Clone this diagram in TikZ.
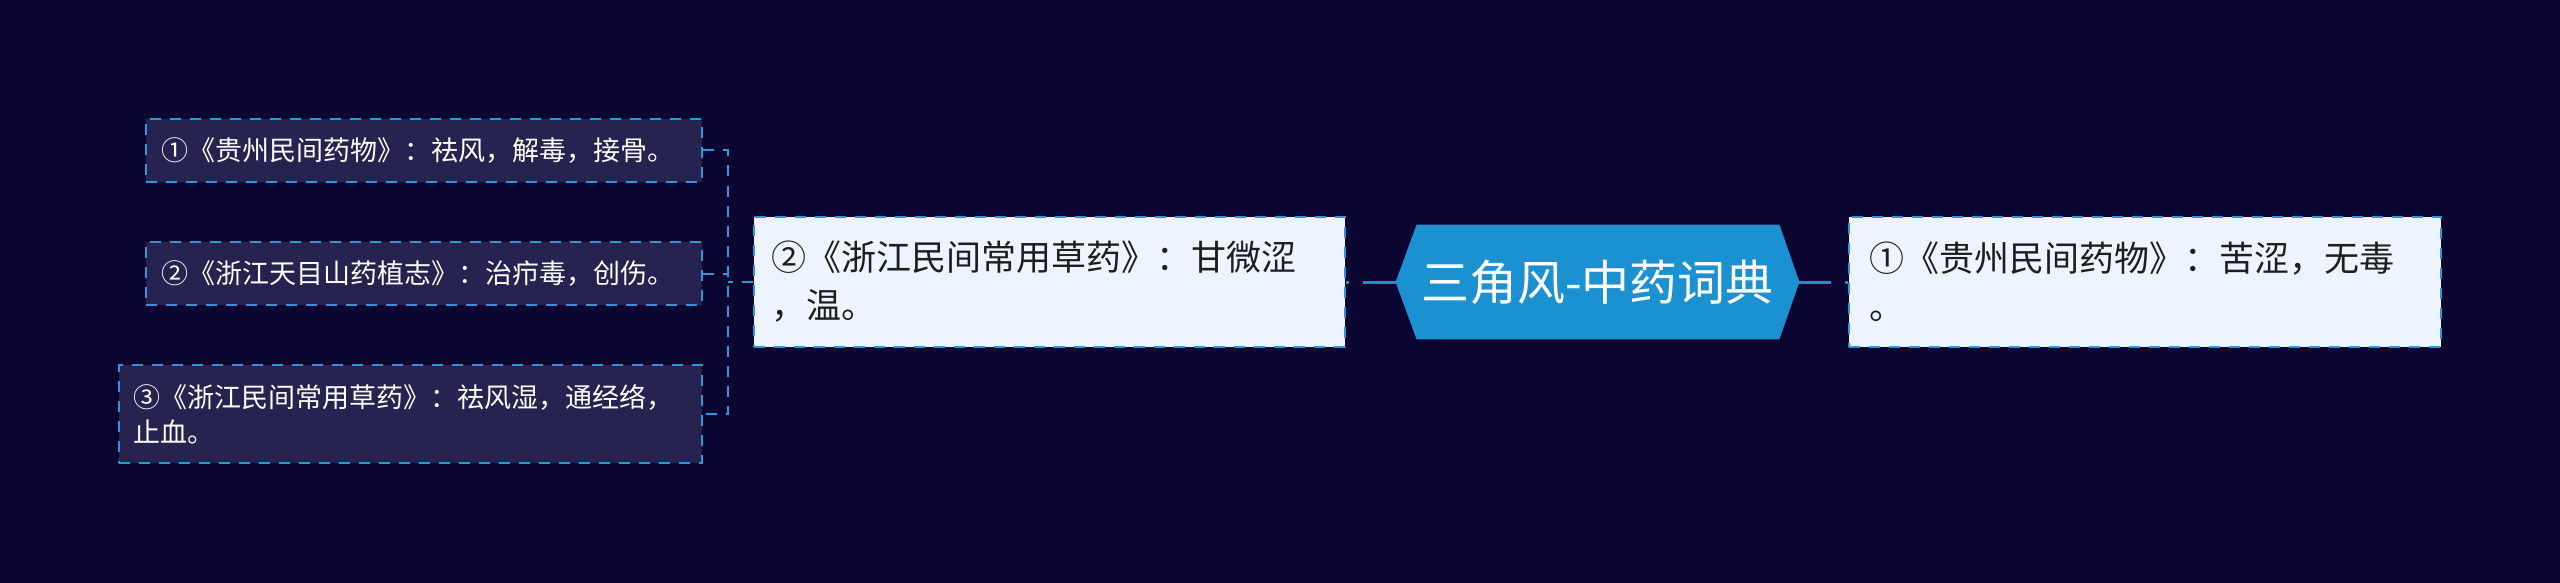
\documentclass[tikz,border=0pt]{standalone}
\usepackage{fontspec}
\setmainfont{Noto Sans CJK SC}
\usetikzlibrary{backgrounds,calc}
\definecolor{bgc}{RGB}{11,6,49}
\definecolor{darkbox}{RGB}{38,35,80}
\definecolor{lightbox}{RGB}{237,244,254}
\definecolor{bord}{RGB}{43,151,216}
\definecolor{hexc}{RGB}{27,145,210}
\definecolor{txtdark}{RGB}{30,30,30}
\tikzset{
 dashbord/.style={dash pattern=on 5.5pt off 4.5pt},
 leafbox/.style={draw=bord, line width=1pt, dashbord, fill=darkbox, text=white, align=left, inner ysep=0pt, font=\fontsize{13.5pt}{17.5pt}\selectfont},
 subbox/.style={draw=bord, line width=1pt, dashbord, fill=lightbox, text=txtdark, align=left, inner ysep=0pt, font=\fontsize{17.5pt}{24pt}\selectfont},
 hexnode/.style={text=white, inner sep=0pt, minimum width=201.5pt, minimum height=57pt, font=\fontsize{24pt}{28pt}\selectfont},
 mainconn/.style={draw=hexc, line width=1.5pt, dash pattern=on 1.5pt off 7pt on 200pt},
 bracket/.style={draw=bord, line width=1pt, dashbord},
}
\begin{document}
\begin{tikzpicture}[x=0.5pt,y=-0.5pt]
\useasboundingbox (0,0) rectangle (2560,583);
% central node
\node[hexnode] (hex) at (1597.5,282) {三角风-中药词典};
\begin{scope}[on background layer]
\fill[bgc] (0,0) rectangle (2560,583);
\fill[hexc] (hex.west) -- ($(hex.north west)+(21,0)$) -- ($(hex.north east)+(-20,0)$) -- (hex.east) -- ($(hex.south east)+(-20,0)$) -- ($(hex.south west)+(21,0)$) -- cycle;
\end{scope}
% second level
\node[subbox, inner xsep=8.5pt, text width=278.5pt, minimum height=65pt] (M) at (1049.5,282) {②《浙江民间常用草药》：甘微涩\\，温。};
\node[subbox, inner xsep=10pt, text width=276pt, minimum height=65pt] (R) at (2145,282) {①《贵州民间药物》：苦涩，无毒\\。};
% leaves
\node[leafbox, inner xsep=7.5pt, text width=263pt, minimum height=31.5pt] (L1) at (424,150.5) {①《贵州民间药物》：祛风，解毒，接骨。};
\node[leafbox, inner xsep=7.5pt, text width=263pt, minimum height=31.5pt] (L2) at (424,273.5) {②《浙江天目山药植志》：治疖毒，创伤。};
\node[leafbox, inner xsep=7pt, text width=277.5pt, minimum height=49pt] (L3) at (410.5,414) {③《浙江民间常用草药》：祛风湿，通经络，\\止血。};
% connectors
\draw[mainconn] (M.east) -- (hex.west);
\draw[mainconn] (R.west) -- (hex.east);
\coordinate (bx) at (728,282);
\draw[bracket] (M.west) -- (bx);
\draw[bracket] (L1.east) -- (L1.east -| bx) -- (L3.east -| bx) -- (L3.east);
\draw[bracket] (L2.east) -- (L2.east -| bx);
\end{tikzpicture}
\end{document}
